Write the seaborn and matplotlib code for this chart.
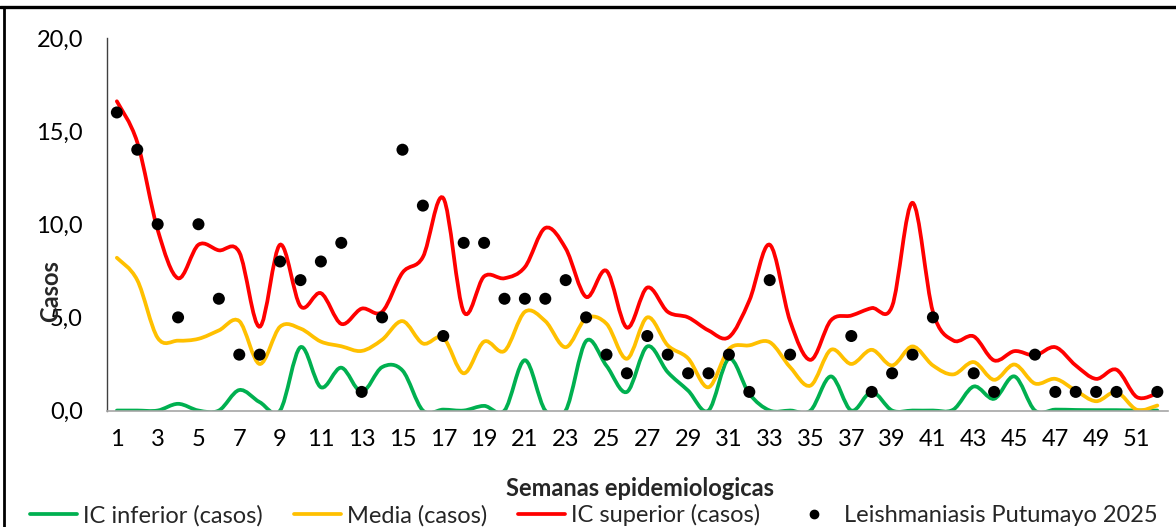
import numpy as np
import pandas as pd
import seaborn as sns
import matplotlib.pyplot as plt
from matplotlib.path import Path
from matplotlib.patches import PathPatch
from matplotlib.lines import Line2D
from matplotlib.ticker import FuncFormatter

weeks = list(range(1, 53))

ic_inferior = [0, 0, 0, 0.36, 0, 0, 1.1, 0.45, 0, 3.4,
               1.25, 2.3, 1.0, 2.33, 2.15, 0, 0.05, 0, 0.25, 0,
               2.7, 0, 0, 3.73, 2.4, 1.0, 3.44, 2.06, 1.07, 0,
               2.78, 0.9, 0, 0, 0, 1.83, 0, 1.0, 0, 0,
               0, 0.05, 1.29, 0.63, 1.83, 0, 0.05, 0.03, 0.02, 0.02,
               0, 0]
media = [8.2, 7.0, 3.9, 3.75, 3.85, 4.3, 4.8, 2.5, 4.5, 4.4,
         3.7, 3.45, 3.2, 3.8, 4.8, 3.6, 3.9, 2.0, 3.7, 3.2,
         5.3, 4.8, 3.4, 4.95, 4.66, 2.78, 5.0, 3.5, 2.8, 1.25,
         3.3, 3.5, 3.67, 2.33, 1.34, 3.26, 2.5, 3.26, 2.42, 3.44,
         2.42, 1.94, 2.6, 1.65, 2.47, 1.45, 1.7, 1.07, 0.5, 0.99,
         0.04, 0.27]
ic_superior = [16.6, 14.4, 9.7, 7.1, 8.9, 8.6, 8.5, 4.5, 8.9, 5.6,
               6.3, 4.65, 5.47, 5.3, 7.4, 8.24, 11.4, 5.3, 7.2, 7.1,
               7.7, 9.8, 8.7, 6.1, 7.5, 4.45, 6.6, 5.3, 5.0, 4.3,
               3.94, 5.9, 8.9, 4.8, 2.72, 4.84, 5.1, 5.5, 5.6, 11.15,
               5.3, 3.76, 3.98, 2.69, 3.19, 2.96, 3.4, 2.42, 1.7, 2.19,
               0.72, 0.93]
casos_2025 = [16, 14, 10, 5, 10, 6, 3, 3, 8, 7,
              8, 9, 1, 5, 14, 11, 4, 9, 9, 6,
              6, 6, 7, 5, 3, 2, 4, 3, 2, 2,
              3, 1, 7, 3, np.nan, np.nan, 4, 1, 2, 3,
              5, np.nan, 2, 1, np.nan, 3, 1, 1, 1, 1,
              np.nan, 1]

series_names = ["IC inferior (casos)", "Media (casos)", "IC superior (casos)"]
series_colors = ["#00B050", "#FFC000", "#FF0000"]
dots_name = "Leishmaniasis Putumayo 2025"

sns.set_theme(style="white")
plt.rcParams["font.family"] = ["Lato", "DejaVu Sans"]


def smooth_path(x, y):
    # smoothed line like Excel: cubic bezier through every weekly value
    x = np.asarray(x, float)
    y = np.asarray(y, float)
    n = len(x)
    verts = [(x[0], y[0])]
    codes = [Path.MOVETO]
    for i in range(n - 1):
        xa, ya = (x[i - 1], y[i - 1]) if i > 0 else (x[i], y[i])
        xb, yb = (x[i + 2], y[i + 2]) if i < n - 2 else (x[i + 1], y[i + 1])
        c1 = (x[i] + (x[i + 1] - xa) / 6, y[i] + (y[i + 1] - ya) / 6)
        c2 = (x[i + 1] - (xb - x[i]) / 6, y[i + 1] - (yb - y[i]) / 6)
        verts += [c1, c2, (x[i + 1], y[i + 1])]
        codes += [Path.CURVE4] * 3
    return Path(verts, codes)


fig = plt.figure(figsize=(11.76, 5.27), dpi=100)
ax = fig.add_axes([0.0907, 0.221, 0.9021, 0.707])

for vals, col in zip([ic_inferior, media, ic_superior], series_colors):
    ax.add_patch(PathPatch(smooth_path(weeks, vals), facecolor="none",
                           edgecolor=col, lw=2.7, capstyle="round", zorder=2))

df = pd.DataFrame({"semana": weeks, "casos": casos_2025}).dropna()
sns.scatterplot(data=df, x="semana", y="casos", ax=ax, color="black", s=75,
                edgecolor="none", zorder=3, legend=False)

ax.set_xlim(0.5, 52.5)
ax.set_ylim(0, 20)
ax.set_yticks([0, 5, 10, 15, 20])
ax.yaxis.set_major_formatter(FuncFormatter(lambda v, p: f"{v:.1f}".replace(".", ",")))
ax.set_xticks(weeks[::2])
ax.set_xticklabels([str(w) for w in weeks[::2]])
ax.tick_params(axis="both", length=0, labelsize=17, colors="black")
ax.tick_params(axis="y", pad=17)
ax.tick_params(axis="x", pad=13)

for side in ["top", "right"]:
    ax.spines[side].set_visible(False)
ax.spines["left"].set_color("#404040")
ax.spines["left"].set_linewidth(1.0)
ax.spines["bottom"].set_color("#A6A6A6")
ax.spines["bottom"].set_linewidth(1.2)

ax.set_ylabel("Casos", fontsize=17, fontweight="bold")
ax.yaxis.set_label_coords(-0.042, 0.32)
ax.set_xlabel("Semanas epidemiologicas", fontsize=17, fontweight="bold")
ax.xaxis.label.set_va("center")
ax.xaxis.set_label_coords(0.503, -0.21)

handles = [Line2D([], [], color=c, lw=2.7) for c in series_colors]
handles.append(Line2D([], [], color="black", marker="o", markersize=6, lw=0))
fig.legend(handles, series_names + [dots_name], loc="center",
           bbox_to_anchor=(0.505, 0.022), ncol=4, frameon=False, fontsize=17,
           handlelength=2.0, handletextpad=0.25, columnspacing=1.3)

# chart frame edges visible in the crop
fig.add_artist(Line2D([0.0, 1.0], [0.987, 0.987], color="black", lw=2.4,
                      transform=fig.transFigure))
fig.add_artist(Line2D([0.0038, 0.0038], [0.0, 0.987], color="black", lw=2.0,
                      transform=fig.transFigure))

fig.savefig("out.png", dpi=100)
